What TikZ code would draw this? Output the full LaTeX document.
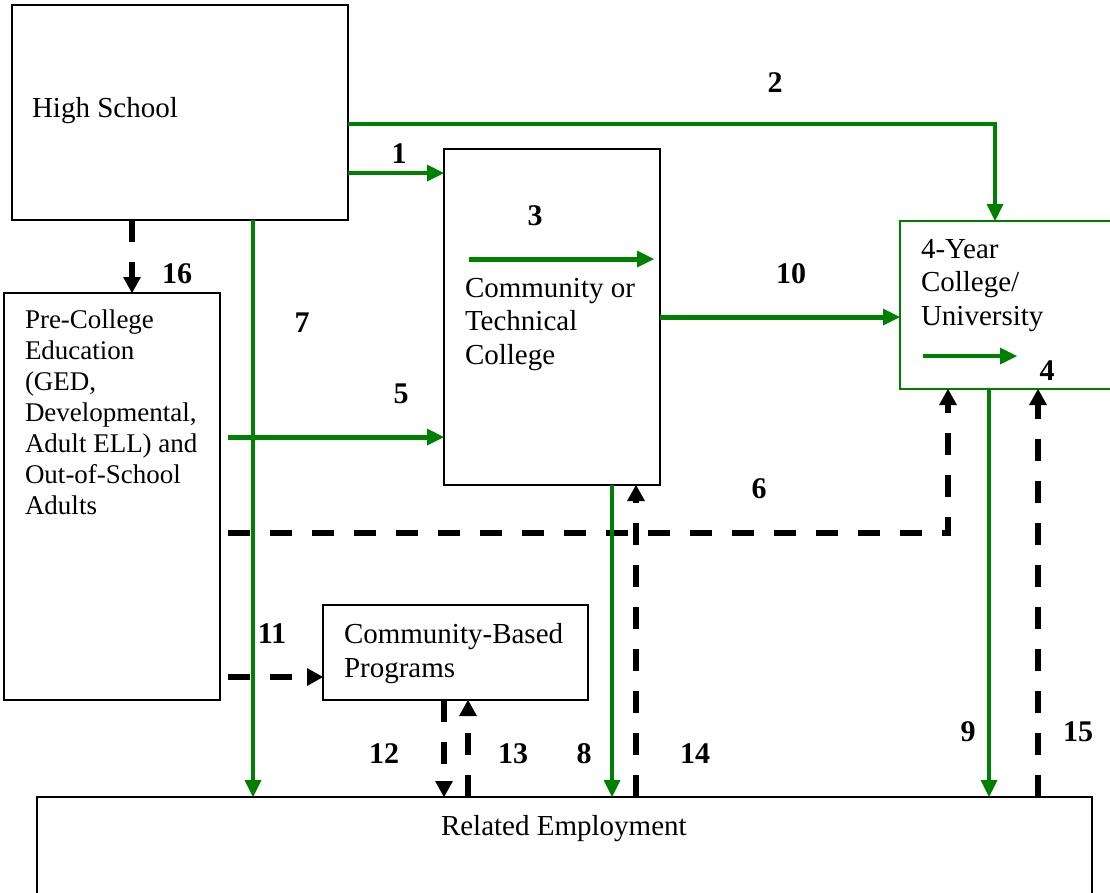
\documentclass[tikz,border=0pt]{standalone}
\usepackage{fontspec}
\setmainfont{Liberation Serif}
\usetikzlibrary{arrows.meta}
\definecolor{dg}{RGB}{0,128,0}
\begin{document}
\begin{tikzpicture}[x=1pt,y=-1pt,
  box/.style={draw=black, line width=2pt, inner sep=0pt, outer sep=0pt, anchor=north west},
  gbox/.style={box, draw=dg},
  txt/.style={anchor=base west, inner sep=0pt, outer sep=0pt, align=left, font=\fontsize{29}{33.5}\selectfont},
  smalltxt/.style={txt, font=\fontsize{27}{31}\selectfont},
  num/.style={anchor=base, inner sep=0pt, outer sep=0pt, font=\fontsize{30}{33}\selectfont\bfseries},
  garrow/.style={draw=dg, line width=4.5pt, -{Triangle[length=17pt,width=17pt,line width=0pt]}},
  darrow/.style={draw=black, line width=5.5pt, dash pattern=on 22pt off 20pt, -{Triangle[length=16pt,width=18pt,line width=0pt]}},
]
\useasboundingbox (0,0) rectangle (1110,892);
\clip (0,0) rectangle (1110,892);
\fill[white] (0,0) rectangle (1110,892);

% boxes
\node[box, minimum width=336pt, minimum height=215pt] (hs) at (12,5) {};
\node[box, minimum width=216pt, minimum height=407pt] (pc) at (4,293) {};
\node[box, minimum width=216pt, minimum height=336pt] (ct) at (444,149) {};
\node[gbox, minimum width=215pt, minimum height=168pt] (fy) at (900,221) {};
\node[box, minimum width=265pt, minimum height=95pt] (cbp) at (323,605) {};
\node[box, minimum width=1055pt, minimum height=150pt] (emp) at (37,797) {};

% texts (anchor = baseline of the last line)
\node[txt] (hst) at (32,117) {High School};
\node[smalltxt] (pct) at (25,514) {Pre-College\\Education\\(GED,\\Developmental,\\Adult ELL) and\\Out-of-School\\Adults};
\node[txt] (ctt) at (465,364) {Community or\\Technical\\College};
\node[txt] (fyt) at (921,325) {4-Year\\College/\\University};
\node[txt] (cbpt) at (344,677) {Community-Based\\Programs};
\node[txt] (empt) at (441,835) {Related Employment};

% free-end coordinates
\coordinate (s3) at (469,259);
\coordinate (e3) at (654,259);
\coordinate (s4) at (923,356);
\coordinate (e4) at (1017,356);
\coordinate (s5) at (228,437);
\coordinate (s6) at (228,533);
\coordinate (k6) at (948,533);
\coordinate (s11) at (228,677);
\coordinate (y1) at (0,173);
\coordinate (y2) at (0,124);
\coordinate (x2) at (995,0);
\coordinate (x7) at (253,0);
\coordinate (x8) at (612,0);
\coordinate (x9) at (989,0);
\coordinate (x12) at (444,0);
\coordinate (x13) at (468,0);
\coordinate (x14) at (636,0);
\coordinate (x15) at (1038,0);
\coordinate (x16) at (132,0);

% dashed connectors
\draw[darrow] (hs.south -| x16) -- (pc.north -| x16);
\draw[darrow] (s6) -- (k6) -- (k6 |- fy.south);
\draw[darrow] (s11) -- (s11 -| cbp.west);
\draw[darrow] (cbp.south -| x12) -- (emp.north -| x12);
\draw[darrow] (emp.north -| x13) -- (cbp.south -| x13);
\draw[darrow] (emp.north -| x14) -- (ct.south -| x14);
\draw[darrow] (emp.north -| x15) -- (fy.south -| x15);

% green connectors
\draw[garrow] (hs.east |- y1) -- (ct.west |- y1);
\draw[garrow] (hs.east |- y2) -| (fy.north -| x2);
\draw[garrow, line width=5pt] (s3) -- (e3);
\draw[garrow] (s4) -- (e4);
\draw[garrow, line width=5pt] (s5) -- (s5 -| ct.west);
\draw[garrow] (hs.south -| x7) -- (emp.north -| x7);
\draw[garrow] (ct.south -| x8) -- (emp.north -| x8);
\draw[garrow] (fy.south -| x9) -- (emp.north -| x9);
\draw[garrow, line width=5pt] (ct.east) -- (ct.east -| fy.west);

% labels
\node[num] (n1) at (399,163) {1};
\node[num] (n2) at (775,92) {2};
\node[num] (n3) at (535,225) {3};
\node[num] (n4) at (1047,380) {4};
\node[num] (n5) at (401,403) {5};
\node[num] (n6) at (759,498) {6};
\node[num] (n7) at (302,332) {7};
\node[num] (n8) at (584,763) {8};
\node[num] (n9) at (968,741) {9};
\node[num] (n10) at (791,283) {10};
\node[num] (n11) at (272,643) {11};
\node[num] (n12) at (384,763) {12};
\node[num] (n13) at (513,763) {13};
\node[num] (n14) at (695,763) {14};
\node[num] (n15) at (1078,741) {15};
\node[num] (n16) at (177,283) {16};
\end{tikzpicture}
\end{document}
